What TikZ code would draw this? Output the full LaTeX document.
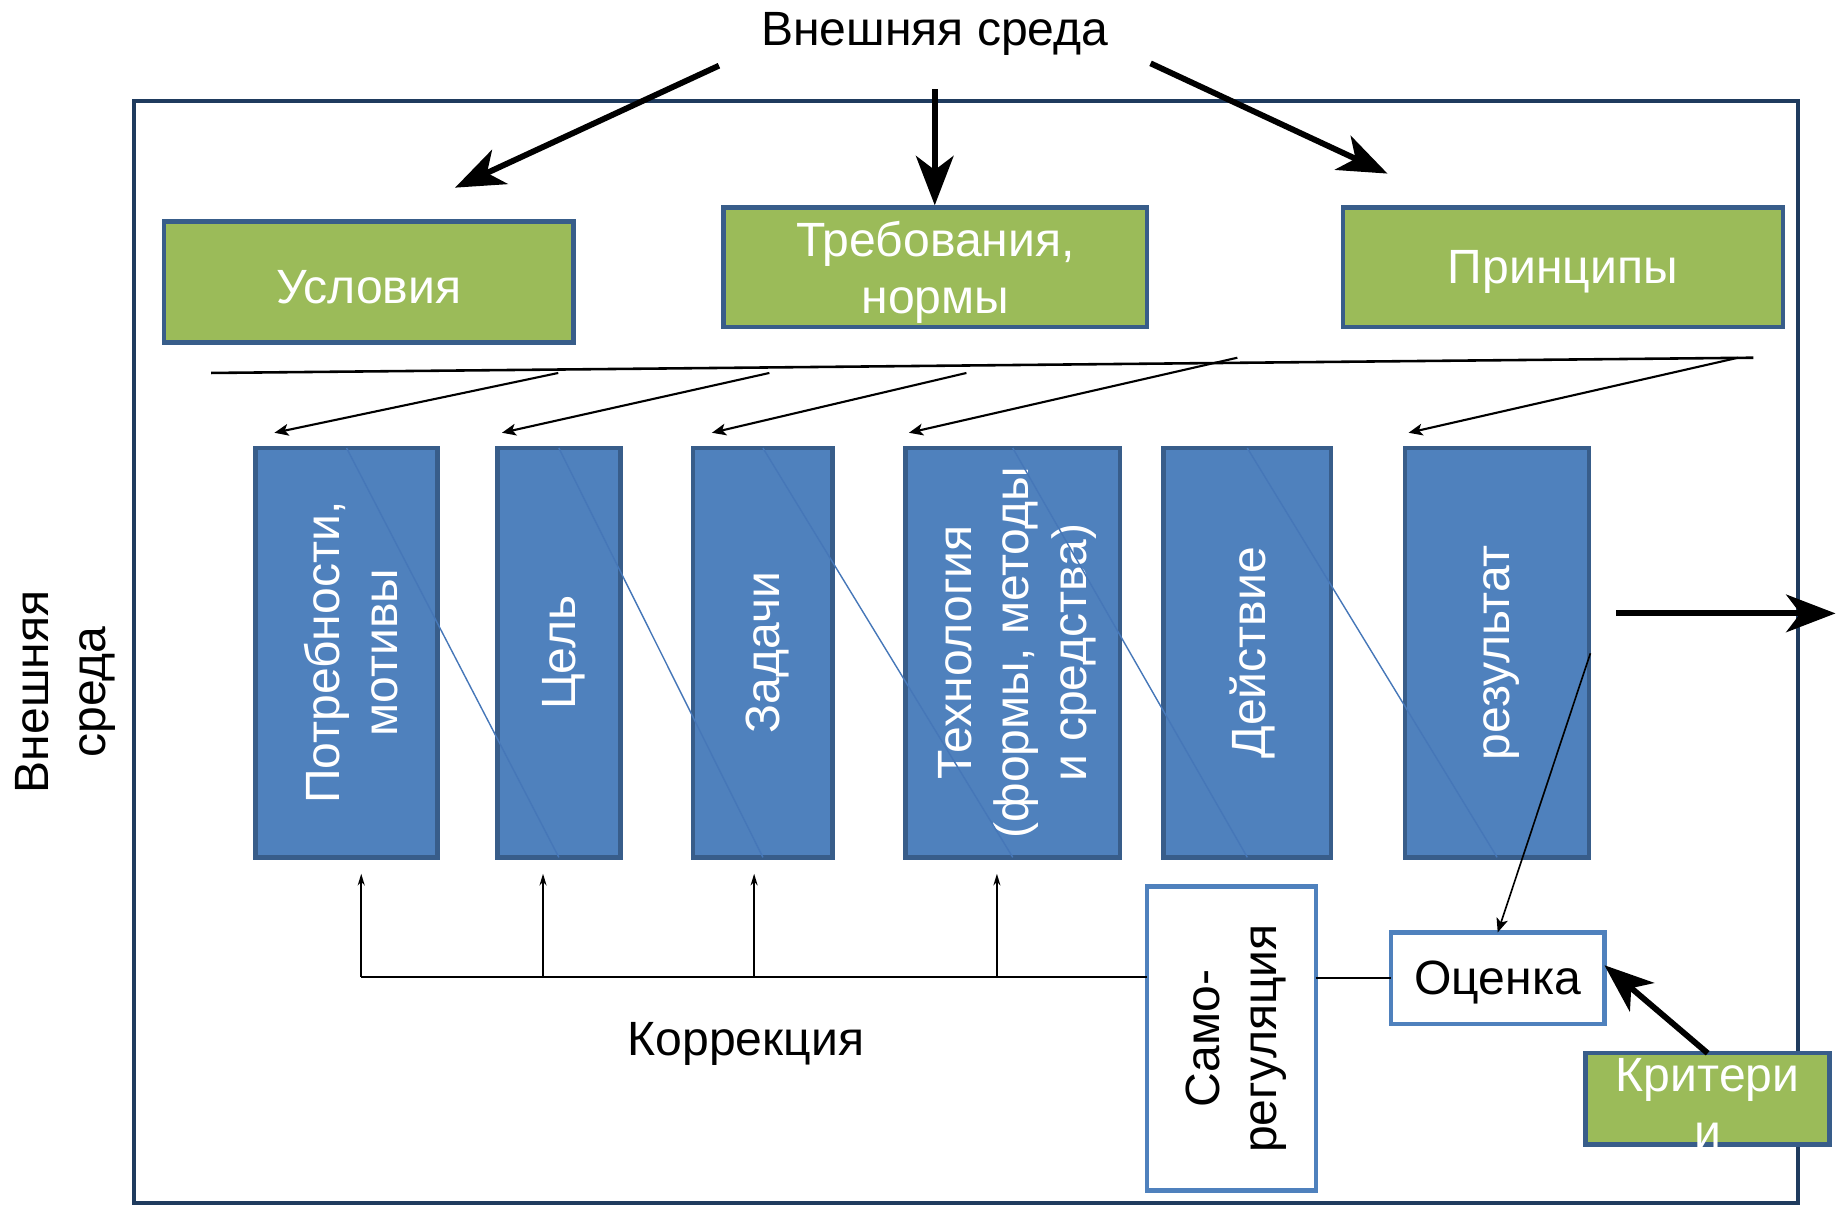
\documentclass[tikz,border=0pt]{standalone}
\usepackage{fontspec}
\setmainfont{Liberation Sans}
\usetikzlibrary{arrows.meta}
\definecolor{grn}{HTML}{9BBB59}
\definecolor{bfill}{HTML}{4F81BD}
\definecolor{bdark}{HTML}{385D8A}
\definecolor{frm}{HTML}{1F3B5E}
\definecolor{diag}{HTML}{4677B8}
\begin{document}
\begin{tikzpicture}[x=0.5pt,y=-0.5pt,font=\fontsize{20.5}{24.5}\selectfont,
  greenbox/.style={draw=bdark, line width=1.9pt, fill=grn, inner sep=0pt, outer sep=0pt},
  bluebox/.style={draw=bdark, line width=1.9pt, fill=bfill, inner sep=0pt, outer sep=0pt},
  whitebox/.style={draw=bfill, line width=2pt, fill=white, inner sep=0pt, outer sep=0pt},
  hlabel/.style={align=center, yshift=-2pt},
  rlabel/.style={xshift=2pt, rotate=90, align=center},
  vlabel/.style={rlabel, text=white},
  bigarrow/.style={line width=2.5pt, -{Stealth[length=21pt,width=16pt,inset=6pt]}},
  thinarrow/.style={line width=0.9pt, -{Stealth[length=6pt,width=5pt,inset=1.5pt]}},
  uparrow/.style={line width=0.7pt, -{Stealth[length=5pt,width=3pt]}},
  diagline/.style={draw=diag, line width=0.6pt}]
\useasboundingbox (0,0) rectangle (1568,1027.5);
% frame
\draw[frm, line width=1.6pt] (114,86) rectangle (1533,1026);
% top label and arrows
\node[hlabel] (env) at (797,25) {Внешняя среда};
\coordinate (a1s) at (613,56); \coordinate (a1e) at (388,160);
\coordinate (a2s) at (797,76); \coordinate (a2e) at (797,175);
\coordinate (a3s) at (981,54); \coordinate (a3e) at (1183,148);
\draw[bigarrow] (a1s) -- (a1e);
\draw[bigarrow] (a2s) -- (a2e);
\draw[bigarrow] (a3s) -- (a3e);
% green boxes
\node[greenbox, minimum width=174.5pt, minimum height=51.5pt] (usl) at (314.5,240.5) {};
\node[greenbox, minimum width=180.5pt, minimum height=51pt] (treb) at (797.5,228) {};
\node[greenbox, minimum width=187.5pt, minimum height=51pt] (princ) at (1332.5,228) {};
\node[hlabel, text=white] at (usl) {Условия};
\node[hlabel, text=white] at (treb) {Требования,\\нормы};
\node[hlabel, text=white] at (princ) {Принципы};
% long line and thin arrows
\coordinate (l0) at (180,318); \coordinate (l1) at (1495,305);
\draw[line width=1.1pt] (l0) -- (l1);
\coordinate (s1) at (476,318); \coordinate (t1) at (234,369);
\coordinate (s2) at (656,318); \coordinate (t2) at (428,369);
\coordinate (s3) at (824,318); \coordinate (t3) at (607,369);
\coordinate (s4) at (1055,305); \coordinate (t4) at (775,369);
\coordinate (s5) at (1482,305); \coordinate (t5) at (1201,369);
\foreach \i in {1,...,5} {\draw[thinarrow] (s\i) -- (t\i);}
% blue boxes
\node[bluebox, minimum width=77.5pt, minimum height=174.5pt] (b1) at (295.5,556.5) {};
\node[bluebox, minimum width=52.5pt, minimum height=174.5pt] (b2) at (476.5,556.5) {};
\node[bluebox, minimum width=59.5pt, minimum height=174.5pt] (b3) at (650.5,556.5) {};
\node[bluebox, minimum width=91.5pt, minimum height=174.5pt] (b4) at (863.5,556.5) {};
\node[bluebox, minimum width=71.5pt, minimum height=174.5pt] (b5) at (1063.5,556.5) {};
\node[bluebox, minimum width=78.5pt, minimum height=174.5pt] (b6) at (1276.5,556.5) {};
\node[vlabel] at (b1) {Потребности,\\мотивы};
\node[vlabel] at (b2) {Цель};
\node[vlabel] at (b3) {Задачи};
\node[vlabel] at (b4) {Технология\\(формы, методы\\и средства)};
\node[vlabel] at (b5) {Действие};
\node[vlabel] at (b6) {результат};
\draw[diagline] (b1.north) -- (b2.south);
\draw[diagline] (b2.north) -- (b3.south);
\draw[diagline] (b3.north) -- (b4.south);
\draw[diagline] (b4.north) -- (b5.south);
\draw[diagline] (b5.north) -- (b6.south);
% output arrow
\coordinate (o0) at (1378,523); \coordinate (o1) at (1565,523);
\draw[bigarrow] (o0) -- (o1);
% bottom feedback
\node[whitebox, minimum width=72pt, minimum height=129.5pt] (sam) at (1050,885.5) {};
\node[rlabel] at (sam) {Само-\\регуляция};
\node[whitebox, minimum width=91pt, minimum height=39pt] (ocen) at (1277,834) {};
\node[hlabel] at (ocen) {Оценка};
\coordinate (c1) at (308,833); \coordinate (u1) at (308,745);
\coordinate (c2) at (463,833); \coordinate (u2) at (463,745);
\coordinate (c3) at (643,833); \coordinate (u3) at (643,745);
\coordinate (c4) at (850,833); \coordinate (u4) at (850,745);
\draw[line width=0.8pt] (c1) -- (c1 -| sam.west);
\draw[line width=0.8pt] (ocen.west -| sam.east) -- (ocen.west);
\foreach \i in {1,...,4} {\draw[uparrow] (c\i) -- (u\i);}
\node[hlabel] (korr) at (636,886) {Коррекция};
\coordinate (r0) at (1356,557);
\draw[thinarrow, line width=0.7pt] (r0) -- (ocen.north);
% criteria
\node[greenbox, minimum width=104pt, minimum height=39pt] (krit) at (1456,937) {};
\node[hlabel, text=white] at (krit) {Критери\\и};
\coordinate (kt) at (1368,823);
\draw[bigarrow] (krit.north) -- (kt);
% left label
\node[rlabel] (lenv) at (52,590) {Внешняя\\среда};
\end{tikzpicture}
\end{document}
